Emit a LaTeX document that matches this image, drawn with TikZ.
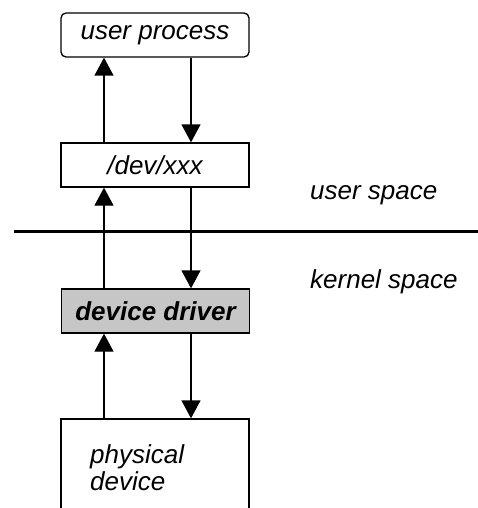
\documentclass[tikz,border=0pt]{standalone}
\usepackage{fontspec}
\setmainfont{Liberation Sans}
\usetikzlibrary{arrows.meta}
\definecolor{drvgray}{RGB}{198,198,198}
\tikzset{
  box/.style={draw=black, line width=1.3pt, minimum width=188pt, minimum height=44pt,
    inner sep=0pt, font=\fontsize{26}{28}\selectfont\itshape},
  flow/.style={draw=black, line width=1.3pt, -{Triangle[width=19pt,length=18pt]}},
  lbl/.style={anchor=west, inner sep=0pt, font=\fontsize{26}{28}\selectfont\itshape},
}
\begin{document}
\begin{tikzpicture}[x=1pt,y=-1pt]
  \useasboundingbox (0,0) rectangle (478,508);
  \clip (0,0) rectangle (478,508);

  % boxes
  \node[box, rounded corners=5pt] (proc) at (155,35) {user process};
  \node[box] (dev) at (155,165) {/dev/xxx};
  \node[box, fill=drvgray, font=\fontsize{26}{28}\selectfont\bfseries\itshape] (drv) at (155.5,311) {device driver};
  \node[box, minimum height=94pt] (phys) at (155,466) {};
  \node[anchor=base west, inner sep=0pt, align=left,
        font=\fontsize{26}{27}\selectfont\itshape] (physlbl) at (90,490) {physical\\device};

  % user / kernel boundary
  \coordinate (sepL) at (14,231);
  \coordinate (sepR) at (478,231);
  \draw[line width=3pt] (sepL) -- (sepR);
  \node[lbl] (us) at (310,195) {user space};
  \node[lbl] (ks) at (310,282) {kernel space};

  % data paths: up on the left, down on the right
  \coordinate (upx) at (104,0);
  \coordinate (dnx) at (191,0);
  \draw[flow] (upx |- dev.north) -- (upx |- proc.south);
  \draw[flow] (dnx |- proc.south) -- (dnx |- dev.north);
  \draw[flow] (upx |- drv.north) -- (upx |- dev.south);
  \draw[flow] (dnx |- dev.south) -- (dnx |- drv.north);
  \draw[flow] (upx |- phys.north) -- (upx |- drv.south);
  \draw[flow] (dnx |- drv.south) -- (dnx |- phys.north);
\end{tikzpicture}
\end{document}
